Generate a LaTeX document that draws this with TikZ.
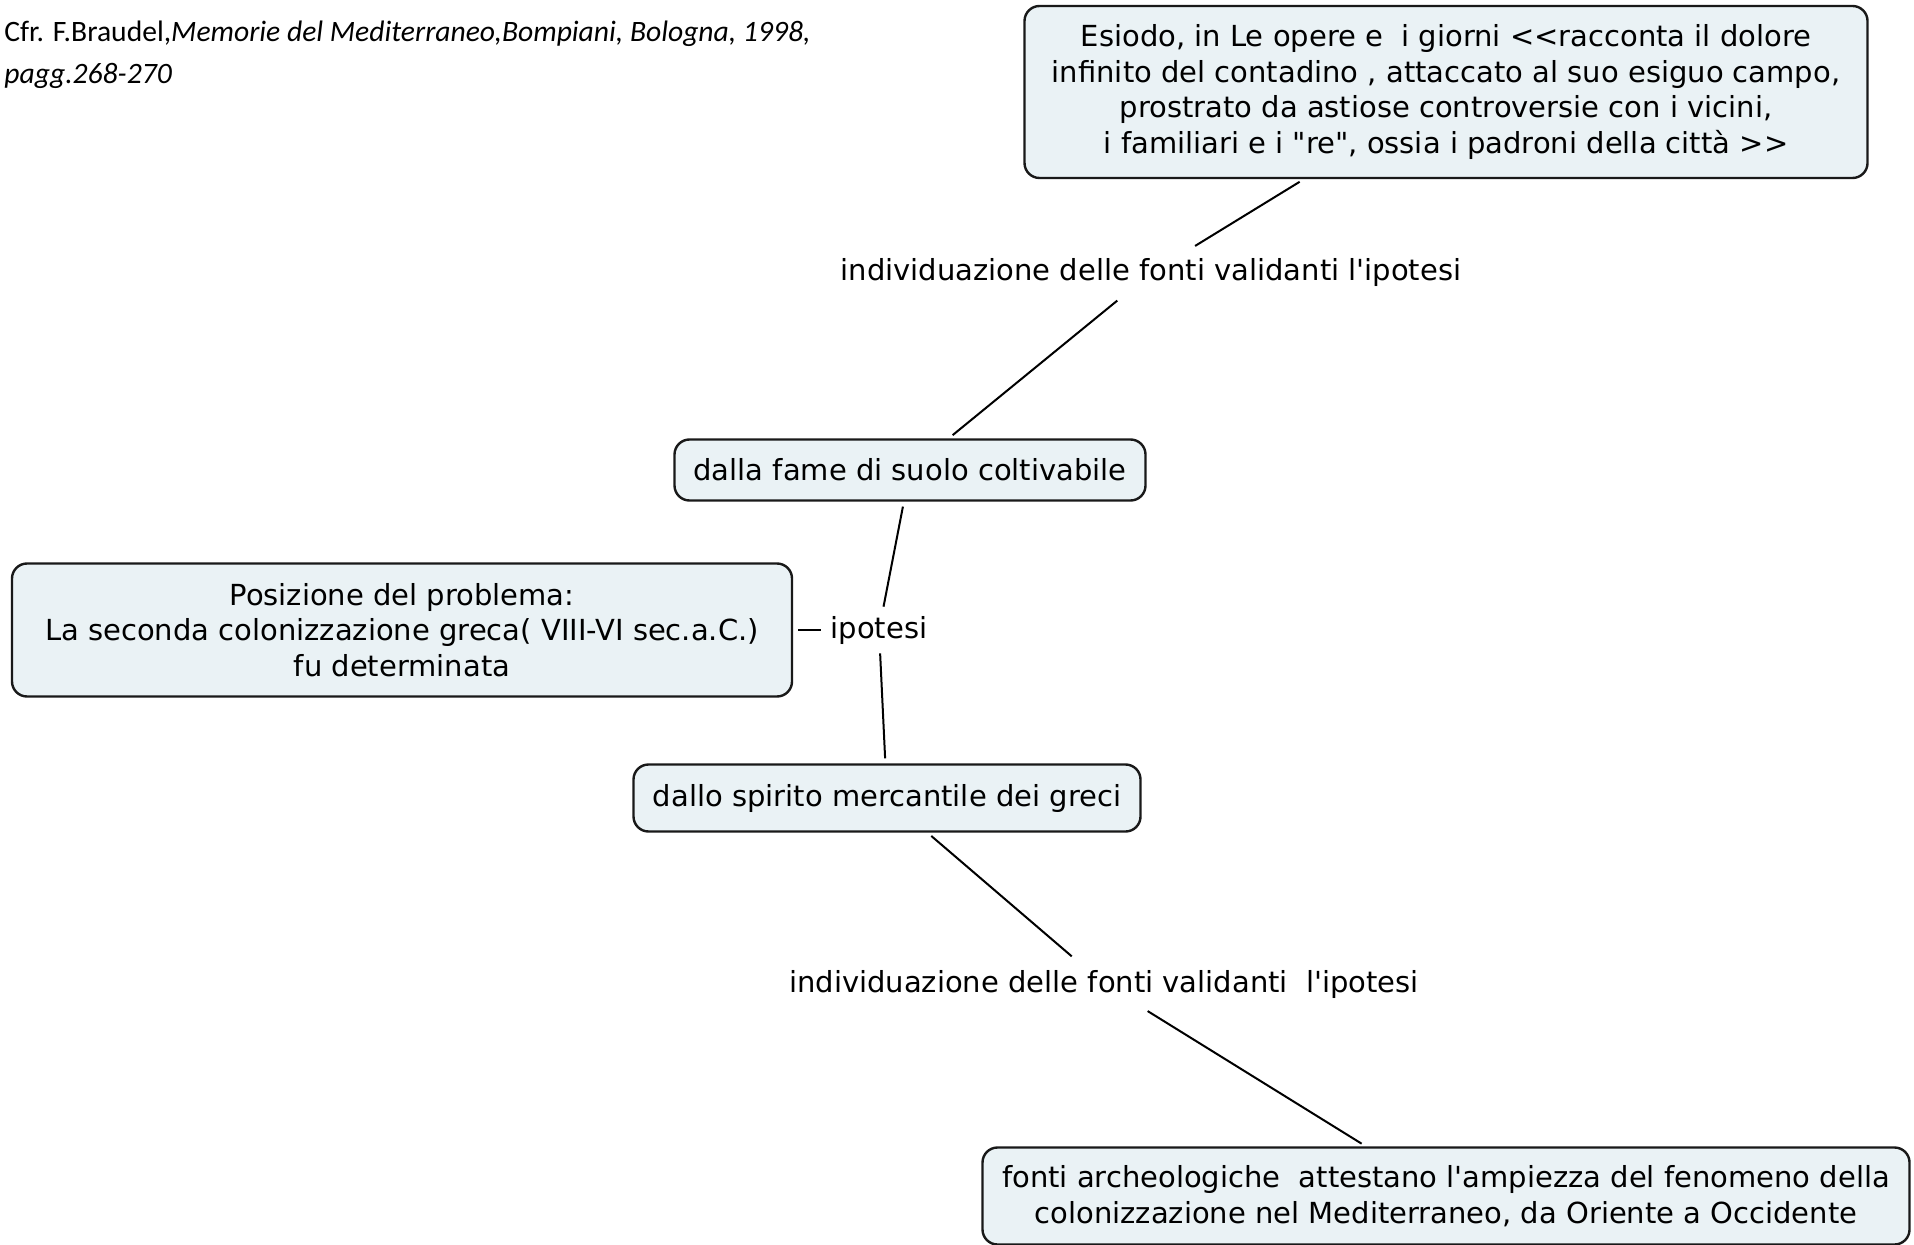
\documentclass[tikz,border=0pt]{standalone}
\usepackage{fontspec}
\newfontfamily\mapfont{DejaVu Sans}
\newfontfamily\citefont{Carlito}
\usetikzlibrary{calc}
\definecolor{boxfill}{RGB}{234,242,245}
\tikzset{
    concept/.style={draw=black!90,line width=1.2pt,fill=boxfill,rounded corners=7.5pt,align=center,inner sep=0pt,font=\mapfont\fontsize{14.5}{17.7}\selectfont},
    linkname/.style={align=center,inner sep=5pt,font=\mapfont\fontsize{14.5}{17.7}\selectfont},
    link/.style={line width=1pt,shorten <=2.5pt,shorten >=2.5pt},
  }

\begin{document}
\begin{tikzpicture}[x=0.5pt,y=-0.5pt]
			          %cadre de la page (pixels)
			          \useasboundingbox (0,0) rectangle (1914,1245);
				  %source
				  \node[anchor=north west,align=left,inner sep=0pt,font=\citefont\fontsize{14.8}{20.7}\selectfont] (fonte) at (4,21)
				       {Cfr. F.Braudel,\textit{Memorie del Mediterraneo,Bompiani, Bologna, 1998,}\\ \textit{pagg.268-270}};
				  %concepts
				  \node[concept,minimum width=421.5pt,minimum height=86pt] (esiodo) at (1446,92)
				       {Esiodo, in Le opere e \ i giorni <<racconta il dolore\\ infinito del contadino , attaccato al suo esiguo campo,\\ prostrato da astiose controversie con i vicini,\\ i familiari e i "re", ossia i padroni della citt\`a >>};
				  \node[concept,minimum width=235.5pt,minimum height=30.5pt] (fame) at (910,470) {dalla fame di suolo coltivabile};
				  \node[concept,minimum width=390pt,minimum height=66.5pt] (problema) at (402,630)
				       {Posizione del problema:\\ La seconda colonizzazione greca( VIII-VI sec.a.C.)\\ fu determinata};
				  \node[concept,minimum width=253.5pt,minimum height=33.5pt] (spirito) at (887,798) {dallo spirito mercantile dei greci};
				  \node[concept,minimum width=463.5pt,minimum height=48.5pt] (archeo) at (1446,1196)
				       {fonti archeologiche \ attestano l'ampiezza del fenomeno della\\ colonizzazione nel Mediterraneo, da Oriente a Occidente};
				  %mots de liaison
				  \node[linkname] (fonti1) at (1151,273) {individuazione delle fonti validanti l'ipotesi};
				  \node[linkname,inner sep=2pt] (ipotesi) at (879,630) {ipotesi};
				  \node[linkname] (fonti2) at (1104,984) {individuazione delle fonti validanti \ l'ipotesi};
				  %liens
				  \draw[link] (esiodo) -- (fonti1);
				  \draw[link] (fonti1) -- (fame);
				  \draw[link] (problema) -- (ipotesi);
				  \draw[link] (fame) -- (ipotesi);
				  \draw[link] (ipotesi) -- (spirito);
				  \draw[link] (spirito) -- (fonti2);
				  \draw[link] (fonti2) -- (archeo);
\end{tikzpicture}
\end{document}
